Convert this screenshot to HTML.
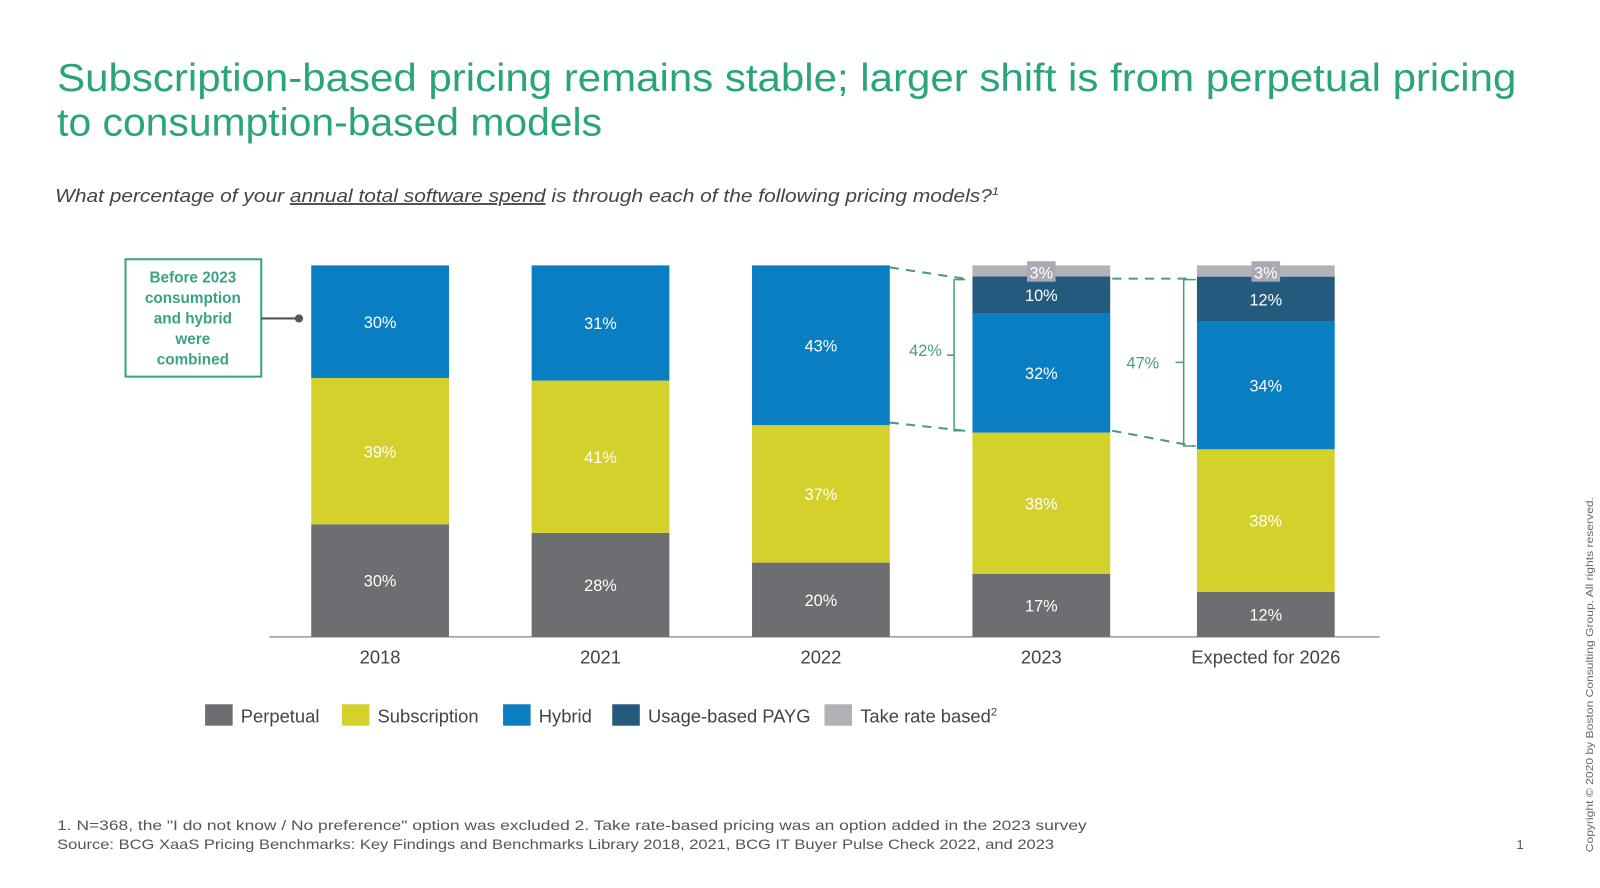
<!DOCTYPE html>
<html><head><meta charset="utf-8"><style>
body{margin:0;width:1600px;height:888px;background:#fff;overflow:hidden;font-family:"Liberation Sans",sans-serif}
svg{position:absolute;left:0;top:0}
</style></head><body>
<svg id="c" width="1600" height="888" viewBox="0 0 1568 870" preserveAspectRatio="none">
<text x="56" y="89" font-size="38" fill="#2aa57a" textLength="1430" lengthAdjust="spacingAndGlyphs">Subscription-based pricing remains stable; larger shift is from perpetual pricing</text>
<text x="56" y="133" font-size="38" fill="#2aa57a" textLength="534" lengthAdjust="spacingAndGlyphs">to consumption-based models</text>
<text x="54" y="198" font-size="18" font-style="italic" fill="#444" textLength="925" lengthAdjust="spacingAndGlyphs">What percentage of your <tspan text-decoration="underline">annual total software spend</tspan> is through each of the following pricing models?<tspan font-size="11" dy="-7">1</tspan></text>
<rect x="123" y="254" width="133" height="115" fill="#fff" stroke="#3aa383" stroke-width="2"/>
<g font-size="15" fill="#3aa383" text-anchor="middle" font-weight="bold">
<text x="189" y="277">Before 2023</text><text x="189" y="297">consumption</text><text x="189" y="317">and hybrid</text><text x="189" y="337">were</text><text x="189" y="357">combined</text></g>
<line x1="256" y1="312" x2="293" y2="312" stroke="#555" stroke-width="2"/>
<circle cx="293" cy="312" r="4" fill="#555"/>
<line x1="264" y1="624" x2="1352" y2="624" stroke="#999" stroke-width="1.5"/>
<g id="bars"></g>
<g stroke="#4a9a82" stroke-width="2" stroke-dasharray="9,7" fill="none">
<line x1="872" y1="262" x2="945" y2="273"/><line x1="872" y1="414" x2="945" y2="422"/>
<line x1="1090" y1="273" x2="1170" y2="273"/><line x1="1090" y1="422" x2="1170" y2="437"/></g>
<g stroke="#4a9a82" stroke-width="1.5" fill="none">
<path d="M946 274 H935 V422 H946 M935 348 H928"/><path d="M1172 274 H1160 V437 H1172 M1160 355 H1152"/></g>
<text x="907" y="349" font-size="16" fill="#4a9a82" text-anchor="middle">42%</text>
<text x="1120" y="361" font-size="16" fill="#4a9a82" text-anchor="middle">47%</text>
<g id="legend" font-size="18" fill="#444"></g>
<text x="56" y="813" font-size="14" fill="#555" textLength="1009" lengthAdjust="spacingAndGlyphs">1. N=368, the "I do not know / No preference" option was excluded  2. Take rate-based pricing was an option added in the 2023 survey</text>
<text x="56" y="832" font-size="14" fill="#555" textLength="977" lengthAdjust="spacingAndGlyphs">Source: BCG XaaS Pricing Benchmarks: Key Findings and Benchmarks Library 2018, 2021, BCG IT Buyer Pulse Check 2022, and 2023</text>
<text x="1486" y="832" font-size="13" fill="#555">1</text>
<text transform="translate(1561,835) rotate(-90)" font-size="10" fill="#666" textLength="348" lengthAdjust="spacingAndGlyphs">Copyright © 2020 by Boston Consulting Group. All rights reserved.</text>
</svg>
<script>
const categories=["2018","2021","2022","2023","Expected for 2026"];
const seriesNames=["Perpetual","Subscription","Hybrid","Usage-based PAYG","Take rate based"];
const perpetual=[30,28,20,17,12];
const subscription=[39,41,37,38,38];
const hybrid=[30,31,43,32,34];
const payg=[0,0,0,10,12];
const takeRate=[0,0,0,3,3];
const colors=["#6d6e71","#d4d12c","#0a7ec2","#245a7d","#b1b1b8"];
const NS="http://www.w3.org/2000/svg";
const series=[perpetual,subscription,hybrid,payg,takeRate];
const base=624,top0=260,H=base-top0,bw=135;
function xPos(i){return 305+i*216+(i==4?4:0);}
const g=document.getElementById('bars');
categories.forEach((c,i)=>{
  const tot=series.reduce((s,a)=>s+a[i],0);
  let y=base;
  series.forEach((a,k)=>{
    const v=a[i]; if(!v)return;
    const h=v/tot*H; y-=h;
    const r=document.createElementNS(NS,'rect');
    r.setAttribute('x',xPos(i));r.setAttribute('y',y);r.setAttribute('width',bw);r.setAttribute('height',h);r.setAttribute('fill',colors[k]);
    
    
    g.appendChild(r);
    if(k==4){
      const b=document.createElementNS(NS,'rect');
      b.setAttribute('x',xPos(i)+bw/2-14);b.setAttribute('y',y-4);b.setAttribute('width',28);b.setAttribute('height',20);b.setAttribute('fill','#aaa9b2');
      
      
      g.appendChild(b);
    }
    const t=document.createElementNS(NS,'text');
    t.setAttribute('x',xPos(i)+bw/2);t.setAttribute('y',k==4?y+13:y+h/2+6);t.setAttribute('text-anchor','middle');
    t.setAttribute('font-size','16');t.setAttribute('fill','#fff');t.textContent=v+'%';
    
    
    g.appendChild(t);
  });
  const l=document.createElementNS(NS,'text');
  l.setAttribute('x',xPos(i)+bw/2);l.setAttribute('y',650);l.setAttribute('text-anchor','middle');l.setAttribute('font-size','18');l.setAttribute('fill','#444');
  l.textContent=c;
  
  
  g.appendChild(l);
});
const lg=document.getElementById('legend');
const lx=[201,335,493,600,808];
seriesNames.forEach((n,k)=>{
  const r=document.createElementNS(NS,'rect');
  r.setAttribute('x',lx[k]);r.setAttribute('y',690);r.setAttribute('width',27);r.setAttribute('height',21);r.setAttribute('fill',colors[k]);
  
  
  lg.appendChild(r);
  const t=document.createElementNS(NS,'text');
  t.setAttribute('x',lx[k]+35);t.setAttribute('y',708);
  t.textContent=n;
  if(k==4){const s=document.createElementNS(NS,'tspan');s.setAttribute('font-size','11');s.setAttribute('dy','-7');s.textContent='2';t.appendChild(s);}
  
  
  lg.appendChild(t);
});
</script>
</body></html>
